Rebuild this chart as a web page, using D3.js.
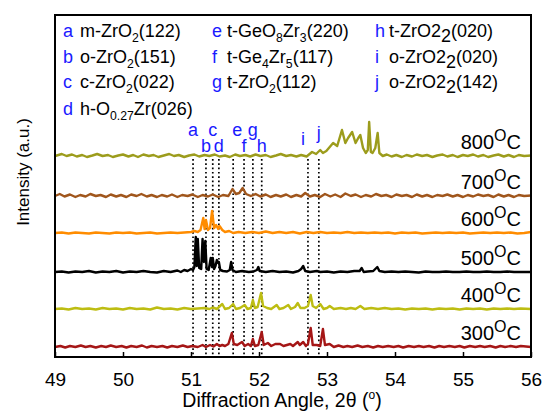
<!DOCTYPE html>
<html>
<head>
<meta charset="utf-8">
<script src="https://cdn.jsdelivr.net/npm/d3@7"></script>
<style>
  html, body { margin: 0; padding: 0; background: #fff; }
  svg { display: block; font-family: Arial, "Liberation Sans", Helvetica, sans-serif; }
</style>
</head>
<body>
<svg id="chart" width="544" height="417"></svg>
<script>
// ---------------- data ----------------
// XRD scans, [2theta (deg), intensity above the scan's own baseline (a.u.)]
const temperatures = ["300", "400", "500", "600", "700", "800"];
const stackOffsets = [10, 48, 85, 124, 161, 201];
const seriesColors = ["#a51616", "#bdbd12", "#000000", "#ff8c00", "#a0561c", "#9c9c1c"];

const scan300 = [[49.0,0],[49.08,1],[49.15,-0.5],[49.22,1],[49.3,0],[49.38,1.5],[49.45,0],[49.52,1],[49.6,-0.5],[49.68,1],[49.75,0],[49.82,1.5],[49.9,0],[49.98,1],[50.05,-0.5],[50.12,1],[50.2,0],[50.28,1.5],[50.35,-0.5],[50.42,1],[50.5,0],[50.58,1],[50.65,-0.5],[50.72,1],[50.8,0],[50.88,1.5],[50.95,0],[51.02,1],[51.1,0],[51.17,2],[51.22,0],[51.28,2],[51.33,0.5],[51.38,3],[51.42,1],[51.46,2],[51.5,1],[51.55,3],[51.6,14],[51.63,3],[51.68,2],[51.75,5],[51.79,1],[51.84,3],[51.88,1],[51.91,8],[51.94,1],[51.99,2],[52.04,15],[52.07,2],[52.13,4],[52.18,1],[52.24,3],[52.31,3],[52.36,1],[52.41,2],[52.46,3],[52.5,1],[52.57,5],[52.6,2],[52.65,5],[52.69,1],[52.72,3],[52.76,19],[52.79,2],[52.85,2],[52.9,1],[52.94,18],[52.97,2],[53.04,3],[53.1,0],[53.17,1.5],[53.24,0],[53.3,1],[53.37,0],[53.45,1.5],[53.52,0],[53.6,1],[53.68,-0.5],[53.75,1],[53.82,0],[53.9,1],[53.98,0],[54.05,1],[54.12,-0.5],[54.2,1],[54.28,0],[54.35,1],[54.42,0],[54.5,1],[54.58,-0.5],[54.65,1],[54.72,0],[54.8,1],[54.88,0],[54.95,1],[55.02,-0.5],[55.1,1],[55.18,0],[55.25,1],[55.32,0],[55.4,1],[55.48,-0.5],[55.55,1],[55.62,0],[55.7,1],[55.78,0],[55.85,1],[56.0,0]];

const scan400 = [[49.0,0],[49.1,0.5],[49.2,-0.5],[49.3,1],[49.4,0],[49.5,0.5],[49.6,-0.5],[49.7,1],[49.8,0],[49.9,0.5],[50.0,-0.5],[50.1,1],[50.2,0],[50.3,0.5],[50.4,-0.5],[50.5,1.5],[50.6,0],[50.7,0.5],[50.8,-0.5],[50.9,1],[51.0,0],[51.1,0.5],[51.2,1],[51.27,0],[51.32,1.5],[51.38,0],[51.46,5],[51.5,0],[51.56,1],[51.62,5],[51.66,0],[51.72,1],[51.79,4],[51.83,0],[51.88,1],[51.91,9],[51.94,1],[51.98,2],[52.03,16],[52.06,3],[52.12,1],[52.18,0],[52.26,4],[52.3,0],[52.36,1],[52.43,4],[52.47,0],[52.53,2],[52.57,6],[52.61,1],[52.67,1],[52.72,3],[52.76,14],[52.79,3],[52.84,1],[52.9,5],[52.95,0],[53.0,1],[53.04,3],[53.1,0],[53.2,1],[53.28,0],[53.35,1],[53.42,0],[53.49,3],[53.55,0],[53.65,1],[53.75,0],[53.85,1],[53.95,0],[54.05,0.5],[54.15,-0.5],[54.25,0.5],[54.35,0],[54.45,0.5],[54.55,-0.5],[54.65,0.5],[54.75,0],[54.85,0.5],[54.95,-0.5],[55.05,0.5],[55.15,0],[55.25,0.5],[55.35,-0.5],[55.45,0.5],[55.55,0],[55.65,0.5],[55.75,0],[55.85,0.5],[56.0,0]];

const scan500 = [[49.0,0],[49.1,0.5],[49.2,-0.5],[49.3,0.5],[49.4,0],[49.5,1],[49.6,-0.5],[49.7,0.5],[49.8,0],[49.9,1],[50.0,-0.5],[50.1,0.5],[50.2,0],[50.3,1],[50.4,0],[50.5,-0.5],[50.6,1],[50.7,0],[50.8,1.5],[50.85,0],[50.9,2],[50.95,1],[51.0,3],[51.03,2],[51.05,5],[51.07,35],[51.085,6],[51.1,33],[51.12,4],[51.15,3],[51.17,33],[51.19,10],[51.21,31],[51.23,3],[51.26,2],[51.29,14],[51.31,5],[51.32,14],[51.34,3],[51.36,6],[51.38,12],[51.4,9],[51.41,10],[51.43,2],[51.47,1],[51.53,0.5],[51.57,2],[51.59,10],[51.61,2],[51.66,0],[51.75,1],[51.85,0],[51.92,0.5],[51.97,2],[51.99,5],[52.01,1],[52.1,0],[52.2,1],[52.3,0],[52.4,0.5],[52.5,-0.5],[52.58,1],[52.62,3],[52.65,6],[52.68,1],[52.75,0],[52.85,1],[52.9,0],[53.0,0.5],[53.1,-0.5],[53.2,0.5],[53.3,0],[53.4,1],[53.48,1],[53.51,4],[53.54,0],[53.6,0.5],[53.68,1],[53.74,5],[53.77,1],[53.85,0],[53.95,0.5],[54.05,0],[54.15,0.5],[54.25,0],[54.35,-0.5],[54.45,0.5],[54.55,0],[54.65,0],[54.75,0.5],[54.85,0],[54.95,0],[55.05,0.5],[55.15,0],[55.25,0],[55.35,0.5],[55.45,0],[55.55,0],[55.65,0.5],[55.75,0],[55.85,0],[56.0,0]];

const scan600 = [[49.0,0],[49.1,0.5],[49.2,-0.5],[49.3,0.5],[49.4,0],[49.5,-0.5],[49.6,0.5],[49.7,0],[49.8,-0.5],[49.9,0.5],[50.0,0],[50.1,0.5],[50.2,-0.5],[50.3,0],[50.4,0.5],[50.5,-0.5],[50.6,0],[50.7,0.5],[50.8,0],[50.9,0.5],[51.0,1],[51.05,2],[51.1,1],[51.14,3],[51.18,15],[51.2,4],[51.22,13],[51.25,3],[51.28,5],[51.31,22],[51.34,5],[51.37,8],[51.4,4],[51.42,7],[51.46,3],[51.5,1],[51.56,2],[51.62,0],[51.7,1],[51.8,0],[51.9,1],[52.0,0],[52.1,1.5],[52.2,0],[52.3,1],[52.4,0],[52.5,1],[52.6,-0.5],[52.7,1],[52.8,0],[52.9,1],[53.0,0],[53.1,0.5],[53.2,0],[53.3,1],[53.4,0],[53.5,0.5],[53.6,0],[53.7,0.5],[53.8,0],[53.9,0.5],[54.0,-0.5],[54.1,0.5],[54.2,0],[54.3,0.5],[54.4,-0.5],[54.5,0],[54.6,0.5],[54.7,0],[54.8,0.5],[54.9,0],[55.0,0.5],[55.1,-0.5],[55.2,0],[55.3,0.5],[55.4,0],[55.5,0.5],[55.6,0],[55.7,0.5],[55.8,-0.5],[55.9,0],[56.0,1]];

const scan700 = [[49.0,0],[49.07,2],[49.14,-0.5],[49.22,1.5],[49.3,-1],[49.37,1],[49.45,-0.5],[49.52,2],[49.6,0],[49.67,1],[49.75,-1],[49.82,1.5],[49.9,-0.5],[49.97,1],[50.05,-1],[50.12,1.5],[50.2,0],[50.27,2],[50.35,-0.5],[50.42,1],[50.5,-1],[50.57,1],[50.65,-0.5],[50.72,1.5],[50.8,-1],[50.87,1],[50.95,0],[51.02,1.5],[51.1,-1],[51.17,1],[51.25,-0.5],[51.32,1.5],[51.4,-1],[51.47,1],[51.55,0],[51.61,7],[51.66,2],[51.71,3],[51.76,8],[51.81,2],[51.88,0],[51.95,2],[52.02,-0.5],[52.1,1.5],[52.17,-1],[52.25,1],[52.32,-0.5],[52.4,1.5],[52.47,-1],[52.55,1],[52.62,-0.5],[52.68,3],[52.75,-0.5],[52.82,1],[52.9,-1],[52.97,2],[53.05,-0.5],[53.12,1.5],[53.2,-1],[53.27,2.5],[53.35,0],[53.42,1.5],[53.5,-1],[53.57,1],[53.65,-0.5],[53.72,2],[53.8,0],[53.87,1],[53.95,-1],[54.02,1.5],[54.1,0],[54.17,1],[54.25,-1],[54.32,1.5],[54.4,-0.5],[54.47,1],[54.55,-1],[54.62,1],[54.7,0],[54.77,1.5],[54.85,-0.5],[54.92,1],[55.0,-1],[55.07,1],[55.15,-0.5],[55.22,1.5],[55.3,0],[55.37,1],[55.45,-1],[55.52,1.5],[55.6,-0.5],[55.67,1],[55.75,-1],[55.82,1],[55.9,0],[56.0,0.5]];

const scan800 = [[49.0,0],[49.05,1],[49.1,2],[49.17,0],[49.25,1.5],[49.32,-0.5],[49.4,1],[49.47,-1],[49.55,0.5],[49.62,2],[49.7,0],[49.78,1],[49.85,-1],[49.93,0.5],[50.0,1.5],[50.08,-0.5],[50.15,1],[50.22,-1],[50.3,1.5],[50.38,0],[50.45,1],[50.52,-1],[50.6,0.5],[50.68,2],[50.75,0],[50.82,1],[50.9,-1],[50.97,0.5],[51.05,1.5],[51.12,-0.5],[51.2,1],[51.27,0],[51.35,1.5],[51.42,-0.5],[51.5,0.5],[51.57,-1],[51.65,1.5],[51.72,0],[51.8,1],[51.87,-0.5],[51.95,1.5],[52.02,0],[52.1,1],[52.17,-1],[52.25,0.5],[52.32,2],[52.4,0],[52.47,1],[52.55,-0.5],[52.62,1],[52.7,-0.5],[52.78,4],[52.84,2],[52.9,6],[52.94,3],[52.99,5],[53.04,9],[53.09,13],[53.15,10],[53.22,26],[53.27,13],[53.31,18],[53.37,24],[53.42,13],[53.46,18],[53.49,21],[53.53,8],[53.57,3],[53.6,6],[53.62,34],[53.645,4],[53.67,3],[53.71,8],[53.745,23],[53.77,3],[53.82,0],[53.88,1.5],[53.95,-0.5],[54.02,1],[54.1,-1],[54.17,1],[54.25,-0.5],[54.32,1.5],[54.4,0],[54.47,1],[54.55,-1],[54.62,0.5],[54.7,1.5],[54.77,-0.5],[54.85,1],[54.92,-1],[55.0,1],[55.07,0],[55.15,1.5],[55.22,-0.5],[55.3,1],[55.37,-1],[55.45,0.5],[55.52,1.5],[55.6,-0.5],[55.67,1],[55.75,-1],[55.82,1],[55.9,0],[56.0,0.5]];

const scans = [scan300, scan400, scan500, scan600, scan700, scan800];

// reference reflections marked with dotted lines
const peakLetters = ["a", "b", "c", "d", "e", "f", "g", "h", "i", "j"];
const peakAngles  = [51.03, 51.22, 51.32, 51.41, 51.62, 51.78, 51.91, 52.04, 52.72, 52.88];
const phaseNames  = [
  "m-ZrO_{2}(122)", "o-ZrO_{2}(151)", "c-ZrO_{2}(022)", "h-O_{0.27}Zr(026)",
  "t-GeO_{8}Zr_{3}(220)", "t-Ge_{4}Zr_{5}(117)", "t-ZrO_{2}(112)",
  "t-ZrO2_[2](020)", "o-ZrO2_[2](020)", "o-ZrO2_[2](142)"
];

const xTicks = [49, 50, 51, 52, 53, 54, 55, 56];
const xTitle = "Diffraction Angle, 2\u03b8 (";
const yTitle = "Intensity (a.u.)";

// ---------------- layout ----------------
const plot = { left: 55, right: 531, top: 15, bottom: 357 };
const letterBlue = "#1a1aff";

const svg = d3.select("#chart");

const x = d3.scaleLinear().domain([49, 56]).range([plot.left, plot.right]);
const y = d3.scaleLinear().domain([0, 342]).range([plot.bottom, plot.top]);

// rich text: _{..} small subscript, _[..] lowered full-size digits
function richText(sel, str, size) {
  const re = /_\{([^}]*)\}|_\[([^\]]*)\]|([^_]+)/g;
  let m, shift = 0;
  while ((m = re.exec(str))) {
    if (m[1] !== undefined) {
      const s = 5;
      sel.append("tspan").attr("dy", s - shift).attr("font-size", size * 0.68).text(m[1]);
      shift = s;
    } else if (m[2] !== undefined) {
      const s = 5;
      sel.append("tspan").attr("dy", s - shift).attr("font-size", size).text(m[2]);
      shift = s;
    } else {
      sel.append("tspan").attr("dy", -shift).attr("font-size", size).text(m[3]);
      shift = 0;
    }
  }
}

// dotted reflection markers
const markTop = y(stackOffsets[5] - 3);
svg.append("g").selectAll("line")
  .data(peakAngles)
  .join("line")
  .attr("x1", d => x(d)).attr("x2", d => x(d))
  .attr("y1", markTop).attr("y2", plot.bottom)
  .attr("stroke", "#000")
  .attr("stroke-width", 1.7)
  .attr("stroke-dasharray", "1.7,2.6");

// scans, stacked by their offsets
const line = d3.line()
  .x(d => x(d[0]))
  .y(d => y(d[1]));

svg.append("g").selectAll("path")
  .data(scans.map((s, i) => ({ pts: s.map(p => [p[0], p[1] + stackOffsets[i]]), i })))
  .join("path")
  .attr("d", d => line(d.pts))
  .attr("fill", "none")
  .attr("stroke", d => seriesColors[d.i])
  .attr("stroke-width", 2.4)
  .attr("stroke-linejoin", "round");

// temperature labels
const tempG = svg.append("g").attr("font-size", 20).attr("fill", "#000");
temperatures.forEach((t, i) => {
  const tx = tempG.append("text")
    .attr("x", 521)
    .attr("y", y(stackOffsets[i]) - 7.5)
    .attr("text-anchor", "end");
  tx.append("tspan").text(t);
  tx.append("tspan").attr("dy", -8).attr("font-size", 16).text("O");
  tx.append("tspan").attr("dy", 8).text("C");
});

// peak letters above the dotted markers
const peakLabelRow = [0, 1, 0, 1, 0, 1, 0, 1, 2, 3];
const rowBaseline = [136, 152, 145, 139];
const labelNudge = { e: 4, i: -5 };
svg.append("g").selectAll("text")
  .data(peakLetters)
  .join("text")
  .attr("x", (d, i) => x(peakAngles[i]) + (labelNudge[d] || 0))
  .attr("y", (d, i) => rowBaseline[peakLabelRow[i]])
  .attr("text-anchor", "middle")
  .attr("font-size", 18)
  .attr("fill", letterBlue)
  .text(d => d);

// phase key
const keyCols = [{ lx: 63, tx: 80 }, { lx: 212, tx: 227 }, { lx: 375, tx: 389 }];
const keyRows = [37, 62.5, 88, 115];
const keyLayout = [[0,0],[0,1],[0,2],[0,3],[1,0],[1,1],[1,2],[2,0],[2,1],[2,2]];
const keyG = svg.append("g");
peakLetters.forEach((L, i) => {
  const [c, r] = keyLayout[i];
  keyG.append("text")
    .attr("x", keyCols[c].lx).attr("y", keyRows[r])
    .attr("font-size", 18).attr("fill", letterBlue).text(L);
  const t = keyG.append("text")
    .attr("x", keyCols[c].tx).attr("y", keyRows[r])
    .attr("fill", "#000");
  richText(t, phaseNames[i], 18);
});

// x axis (inward ticks)
const xAxis = d3.axisBottom(x).tickValues(xTicks).tickSize(-5).tickSizeOuter(0).tickFormat(d3.format("d"));
const gx = svg.append("g").attr("transform", `translate(0,${plot.bottom})`).call(xAxis);
gx.select(".domain").remove();
gx.selectAll(".tick line").attr("stroke", "#000").attr("stroke-width", 1.5);
gx.selectAll(".tick text")
  .attr("y", 29).attr("dy", 0)
  .attr("font-size", 19)
  .attr("font-family", "Arial, 'Liberation Sans', sans-serif")
  .attr("fill", "#000");

// frame
svg.append("rect")
  .attr("x", plot.left).attr("y", plot.top)
  .attr("width", plot.right - plot.left).attr("height", plot.bottom - plot.top)
  .attr("fill", "none").attr("stroke", "#000").attr("stroke-width", 2);

// axis titles
const xt = svg.append("text")
  .attr("x", 282).attr("y", 407)
  .attr("text-anchor", "middle")
  .attr("font-size", 19.5);
xt.append("tspan").text(xTitle);
xt.append("tspan").attr("dy", -8).attr("font-size", 12).text("o");
xt.append("tspan").attr("dy", 8).text(")");

svg.append("text")
  .attr("transform", "translate(29,172) rotate(-90)")
  .attr("text-anchor", "middle")
  .attr("font-size", 17)
  .text(yTitle);
</script>
</body>
</html>
